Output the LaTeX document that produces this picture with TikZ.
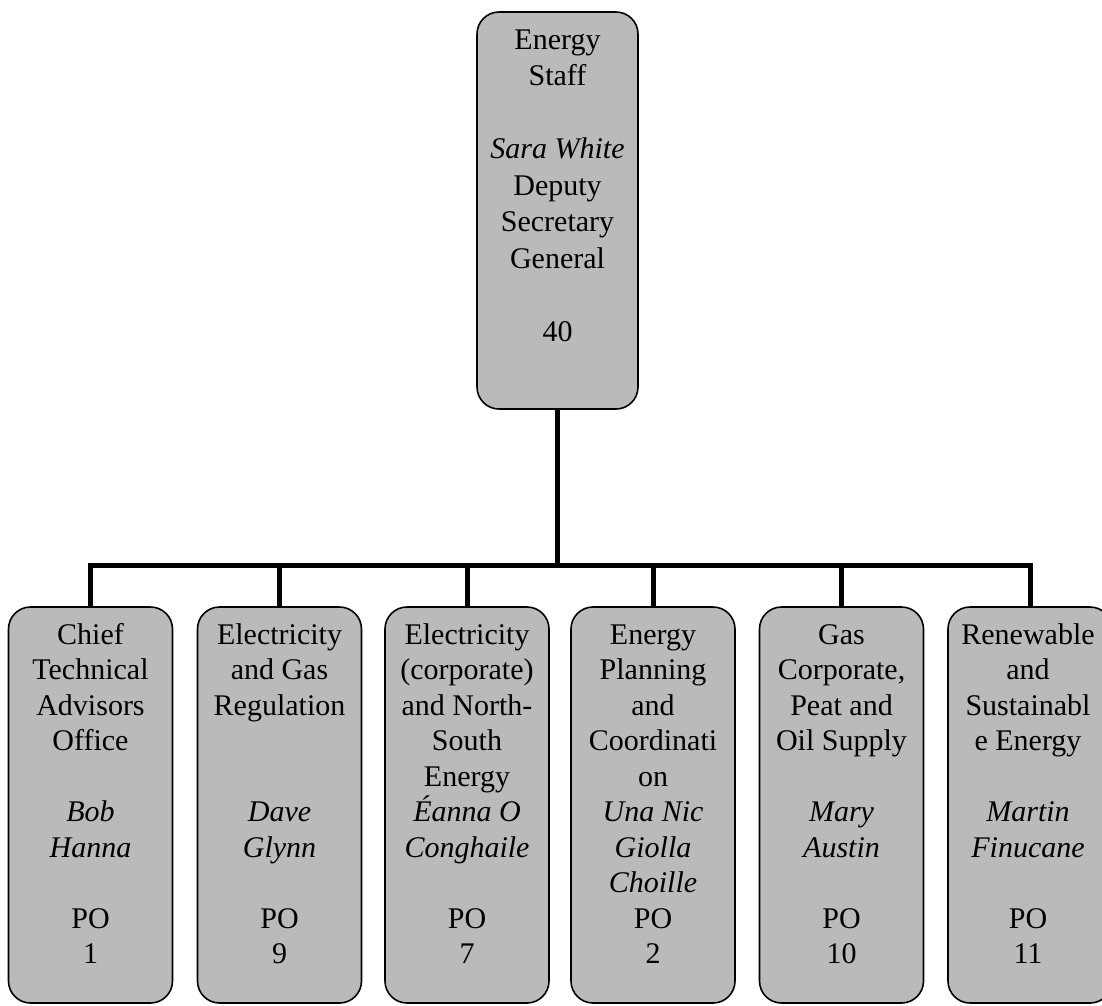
\documentclass[tikz,border=0pt]{standalone}
\usepackage{fontspec}
\setmainfont{Liberation Serif}
\begin{document}
\begin{tikzpicture}[x=1pt,y=-1pt,
  orgbox/.style={draw=black, line width=1.6pt, rounded corners=22pt,
    fill=black!27, inner sep=0pt},
  headbox/.style={orgbox, minimum width=161pt, minimum height=397pt},
  unitbox/.style={orgbox, minimum width=164pt, minimum height=396pt},
  headtext/.style={inner sep=0pt, anchor=north, align=center,
    font=\fontsize{30}{36.5}\selectfont},
  unittext/.style={inner sep=0pt, anchor=north, align=center,
    font=\fontsize{30}{35.5}\selectfont},
  link/.style={line width=5pt, draw=black}
]
\useasboundingbox (0,0) rectangle (1102,1005);

% head of the section
\node[headbox] (head) at (557.5,210.5) {};
\node[headtext] (headlbl) at ([yshift=-12.5pt]head.north)
  {\strut Energy\\Staff\\~\\\textit{Sara White}\\Deputy\\Secretary\\General\\~\\40};

% units
\node[unitbox] (u1) at (90.5,805) {};
\node[unitbox] (u2) at (279.5,805) {};
\node[unitbox] (u3) at (467,805) {};
\node[unitbox] (u4) at (653,805) {};
\node[unitbox] (u5) at (841.5,805) {};
\node[unitbox] (u6) at (1030,805) {};

\node[unittext] (l1) at ([yshift=-13pt]u1.north)
  {\strut Chief\\Technical\\Advisors\\Office\\~\\\textit{Bob}\\\textit{Hanna}\\~\\PO\\1};
\node[unittext] (l2) at ([yshift=-13pt]u2.north)
  {\strut Electricity\\and Gas\\Regulation\\~\\~\\\textit{Dave}\\\textit{Glynn}\\~\\PO\\9};
\node[unittext] (l3) at ([yshift=-13pt]u3.north)
  {\strut Electricity\\(corporate)\\and North-\\South\\Energy\\\textit{Éanna O}\\\textit{Conghaile}\\~\\PO\\7};
\node[unittext] (l4) at ([yshift=-13pt]u4.north)
  {\strut Energy\\Planning\\and\\Coordinati\\on\\\textit{Una Nic}\\\textit{Giolla}\\\textit{Choille}\\PO\\2};
\node[unittext] (l5) at ([yshift=-13pt]u5.north)
  {\strut Gas\\Corporate,\\Peat and\\Oil Supply\\~\\\textit{Mary}\\\textit{Austin}\\~\\PO\\10};
\node[unittext] (l6) at ([xshift=-2pt,yshift=-13pt]u6.north)
  {\strut Renewable\\and\\Sustainabl\\e Energy\\~\\\textit{Martin}\\\textit{Finucane}\\~\\PO\\11};

% reporting lines
\coordinate (hub) at (557.5,565);
\draw[link] (head.south) -- (hub);
\foreach \u in {u1,u2,u3,u4,u5,u6}
  \draw[link] (\u.north) |- (hub);
\end{tikzpicture}
\end{document}
